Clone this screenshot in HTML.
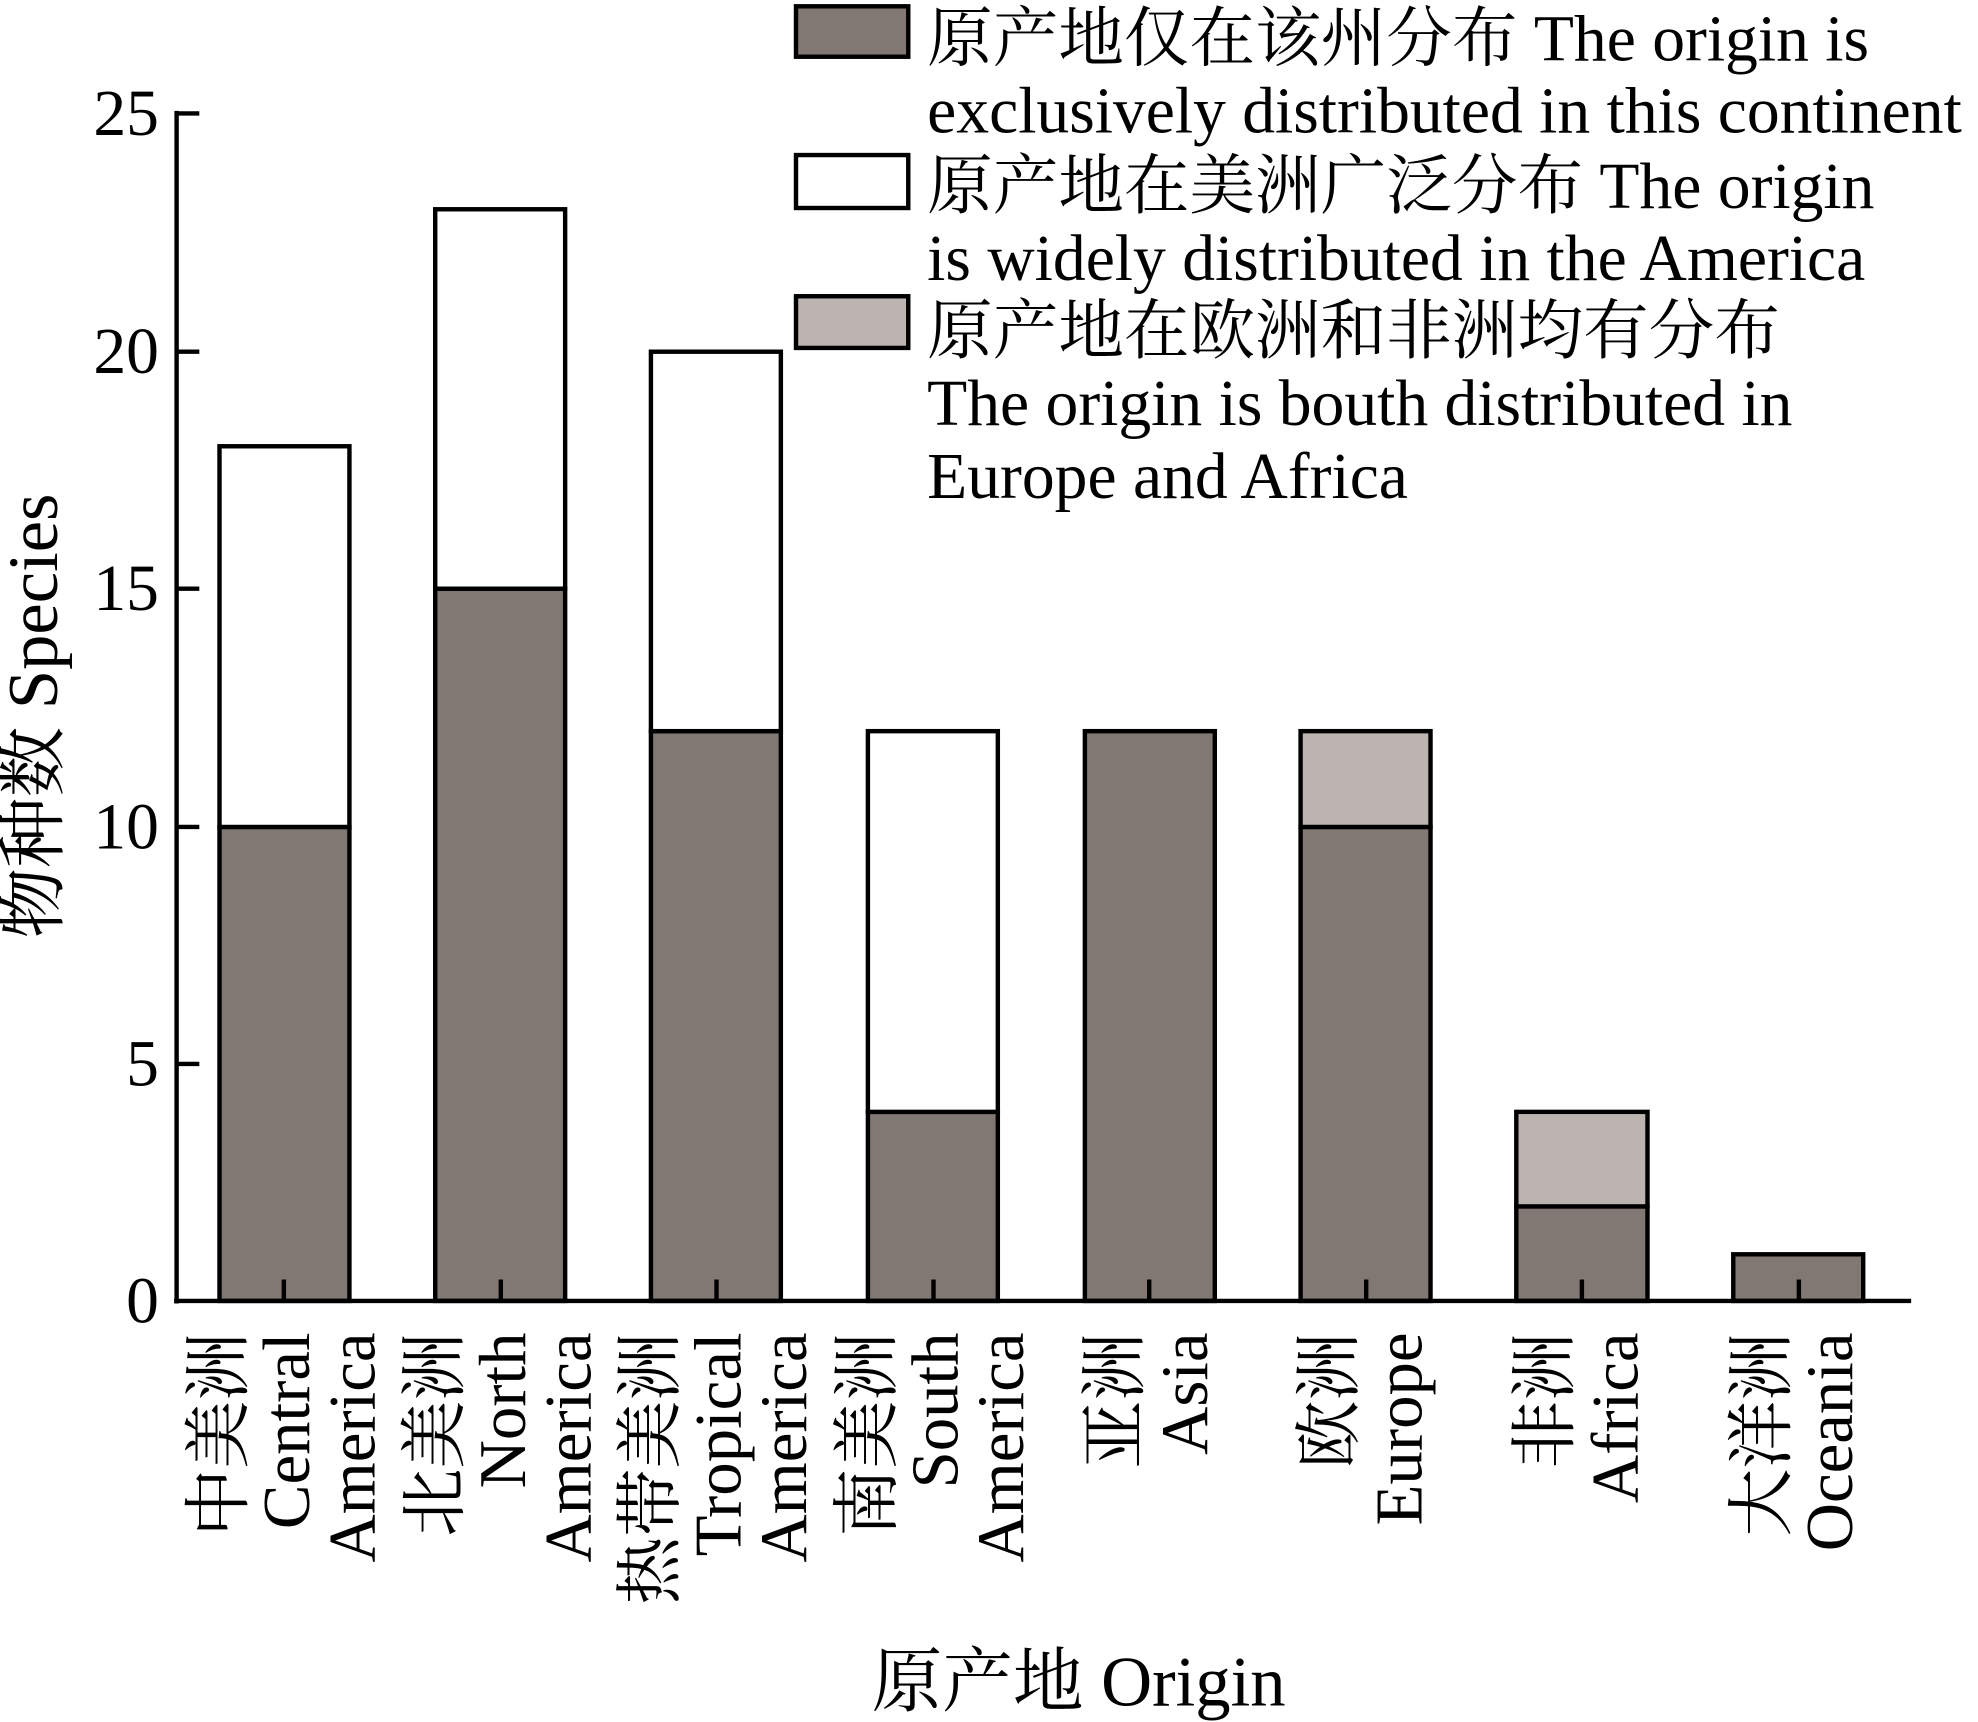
<!DOCTYPE html>
<html><head><meta charset="utf-8"><style>html,body{margin:0;padding:0;background:#fff}svg{display:block}</style></head>
<body>
<svg width="1978" height="1722" viewBox="0 0 1568 1366" preserveAspectRatio="none" xmlns="http://www.w3.org/2000/svg" font-family="'Liberation Serif','Noto Serif CJK SC',serif" fill="#000">
<g stroke="#000" stroke-width="3.5">
<rect x="174" y="656" width="103" height="376" fill="#817773"/>
<rect x="174" y="354" width="103" height="302" fill="#fff"/>
<rect x="345" y="467" width="103" height="565" fill="#817773"/>
<rect x="345" y="166" width="103" height="301" fill="#fff"/>
<rect x="516" y="580" width="103" height="452" fill="#817773"/>
<rect x="516" y="279" width="103" height="301" fill="#fff"/>
<rect x="688" y="882" width="103" height="150" fill="#817773"/>
<rect x="688" y="580" width="103" height="302" fill="#fff"/>
<rect x="860" y="580" width="103" height="452" fill="#817773"/>
<rect x="1031" y="656" width="103" height="376" fill="#817773"/>
<rect x="1031" y="580" width="103" height="76" fill="#bcb4b1"/>
<rect x="1202" y="957" width="104" height="75" fill="#817773"/>
<rect x="1202" y="882" width="104" height="75" fill="#bcb4b1"/>
<rect x="1374" y="995" width="103" height="37" fill="#817773"/>
<line x1="140" y1="88" x2="140" y2="1034"/>
<line x1="138" y1="1032" x2="1515" y2="1032"/>
<line x1="140" y1="90" x2="158" y2="90"/>
<line x1="140" y1="279" x2="158" y2="279"/>
<line x1="140" y1="467" x2="158" y2="467"/>
<line x1="140" y1="656" x2="158" y2="656"/>
<line x1="140" y1="844" x2="158" y2="844"/>
<line x1="225" y1="1015" x2="225" y2="1032"/>
<line x1="397" y1="1015" x2="397" y2="1032"/>
<line x1="568" y1="1015" x2="568" y2="1032"/>
<line x1="740" y1="1015" x2="740" y2="1032"/>
<line x1="911" y1="1015" x2="911" y2="1032"/>
<line x1="1083" y1="1015" x2="1083" y2="1032"/>
<line x1="1254" y1="1015" x2="1254" y2="1032"/>
<line x1="1426" y1="1015" x2="1426" y2="1032"/>
<rect x="631" y="5" width="89" height="40" fill="#817773"/>
<rect x="631" y="123" width="89" height="42" fill="#fff"/>
<rect x="631" y="235" width="89" height="41" fill="#bcb4b1"/>
</g>
<g font-size="52" text-anchor="end">
<text x="126" y="107">25</text><text x="126" y="296">20</text><text x="126" y="484">15</text>
<text x="126" y="673">10</text><text x="126" y="861">5</text><text x="126" y="1049">0</text>
</g>
<g font-size="52">
<text x="735" y="48">原产地仅在该州分布 The origin is</text>
<text x="735" y="105">exclusively distributed in this continent</text>
<text x="735" y="165">原产地在美洲广泛分布 The origin</text>
<text x="735" y="222">is widely distributed in the America</text>
<text x="735" y="280">原产地在欧洲和非洲均有分布</text>
<text x="735" y="337">The origin is bouth distributed in</text>
<text x="735" y="395">Europe and Africa</text>
</g>
<text transform="translate(45,568) rotate(-90)" font-size="56" text-anchor="middle">物种数 Species</text>
<text x="855" y="1353" font-size="56" text-anchor="middle">原产地 Origin</text>
<g font-size="53" text-anchor="end">
<text transform="translate(192,1057) rotate(-90)" font-size="54">中美洲</text>
<text transform="translate(245,1057) rotate(-90)">Central</text>
<text transform="translate(297,1057) rotate(-90)">America</text>
<text transform="translate(363,1057) rotate(-90)" font-size="54">北美洲</text>
<text transform="translate(416,1057) rotate(-90)">North</text>
<text transform="translate(468,1057) rotate(-90)">America</text>
<text transform="translate(534,1057) rotate(-90)" font-size="54">热带美洲</text>
<text transform="translate(587,1057) rotate(-90)">Tropical</text>
<text transform="translate(639,1057) rotate(-90)">America</text>
<text transform="translate(706,1057) rotate(-90)" font-size="54">南美洲</text>
<text transform="translate(759,1057) rotate(-90)">South</text>
<text transform="translate(811,1057) rotate(-90)">America</text>
<text transform="translate(902,1057) rotate(-90)" font-size="54">亚洲</text>
<text transform="translate(957,1057) rotate(-90)">Asia</text>
<text transform="translate(1072,1057) rotate(-90)" font-size="54">欧洲</text>
<text transform="translate(1127,1057) rotate(-90)">Europe</text>
<text transform="translate(1243,1057) rotate(-90)" font-size="54">非洲</text>
<text transform="translate(1298,1057) rotate(-90)">Africa</text>
<text transform="translate(1415,1057) rotate(-90)" font-size="54">大洋洲</text>
<text transform="translate(1468,1057) rotate(-90)">Oceania</text>
</g>
</svg>
</body></html>
